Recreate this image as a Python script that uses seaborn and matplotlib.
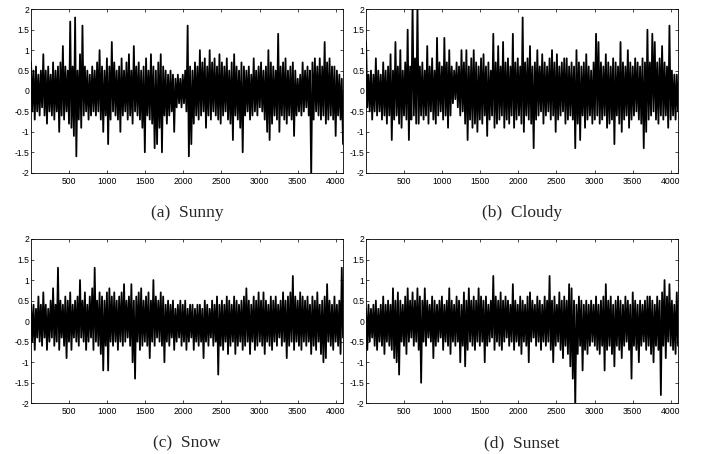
"""Four-panel noise signal figure (Sunny / Cloudy / Snow / Sunset)."""

import matplotlib

matplotlib.use("Agg")
import matplotlib.pyplot as plt
import numpy as np
import pandas as pd
import seaborn as sns

N_SAMPLES = 4096
X_TICKS = [500, 1000, 1500, 2000, 2500, 3000, 3500, 4000]
Y_TICKS = [-2, -1.5, -1, -0.5, 0, 0.5, 1, 1.5, 2]
Y_TICK_LABELS = ["-2", "-1.5", "-1", "-0.5", "0", "0.5", "1", "1.5", "2"]

CAPTIONS = ["(a)  Sunny", "(b)  Cloudy", "(c)  Snow", "(d)  Sunset"]

# Per-bin (32 samples) upper / lower excursions, in tenths.
sunny_hi = [7, 5, 6, 4, 5, 9, 5, 6, 4, 7, 5, 6, 7, 11, 6, 5, 17, 6, 18, 5, 9, 16, 6, 5, 4, 6, 5, 7, 10, 6, 5, 8,
            6, 12, 7, 5, 6, 8, 5, 7, 9, 5, 11, 6, 7, 5, 6, 8, 5, 9, 6, 5, 7, 9, 6, 5, 4, 5, 4, 3, 4, 3, 4, 5,
            16, 6, 5, 7, 6, 10, 7, 8, 6, 10, 7, 8, 6, 9, 7, 6, 8, 5, 7, 9, 6, 5, 7, 6, 5, 6, 4, 8, 5, 6, 7, 5,
            6, 10, 7, 6, 5, 14, 6, 7, 8, 5, 6, 7, 5, 3, 4, 7, 5, 6, 5, 7, 8, 6, 8, 6, 12, 7, 8, 6, 6, 5, 4, 3]
sunny_lo = [-5, -7, -5, -6, -4, -6, -8, -5, -6, -7, -5, -10, -6, -7, -5, -8, -9, -11, -16, -7, -9, -6, -5, -7,
            -6, -5, -6, -5, -7, -10, -6, -13, -7, -5, -6, -7, -10, -6, -5, -7, -6, -8, -5, -6, -7, -9, -15, -6,
            -7, -8, -14, -13, -9, -15, -6, -8, -6, -5, -10, -4, -3, -4, -3, -5, -16, -13, -8, -6, -7, -6, -5, -9,
            -6, -7, -5, -6, -7, -8, -6, -5, -7, -8, -12, -6, -7, -9, -15, -6, -5, -7, -6, -5, -6, -4, -5, -7,
            -10, -12, -8, -6, -7, -10, -6, -7, -8, -6, -7, -11, -6, -5, -6, -5, -4, -6, -21, -7, -5, -6, -7, -6,
            -8, -7, -6, -7, -11, -6, -7, -13]

cloudy_hi = [12, 4, 5, 4, 8, 5, 4, 7, 5, 6, 9, 5, 12, 6, 10, 5, 7, 15, 6, 21, 8, 21, 6, 7, 5, 11, 6, 8, 5, 13, 7, 6,
             13, 7, 10, 6, 5, 7, 6, 10, 7, 10, 6, 8, 10, 7, 6, 8, 9, 6, 7, 5, 14, 7, 11, 6, 12, 7, 8, 6, 14, 7, 8, 6,
             18, 7, 8, 11, 6, 7, 10, 6, 9, 7, 6, 8, 10, 7, 9, 6, 7, 8, 8, 6, 7, 6, 10, 7, 6, 7, 9, 6, 5, 7, 14, 12,
             7, 6, 9, 7, 6, 8, 7, 6, 12, 7, 6, 10, 7, 6, 8, 7, 6, 8, 7, 15, 7, 14, 12, 7, 8, 11, 7, 6, 16, 5, 4, 4]
cloudy_lo = [-4, -5, -7, -5, -6, -5, -7, -6, -8, -6, -12, -7, -6, -8, -9, -6, -7, -12, -7, -6, -8, -8, -6, -7,
             -6, -8, -5, -7, -8, -6, -5, -7, -6, -9, -6, -3, -2, -4, -6, -5, -8, -12, -7, -9, -8, -10, -7, -8,
             -6, -11, -7, -6, -9, -8, -7, -6, -9, -7, -8, -6, -9, -7, -6, -8, -10, -6, -7, -8, -14, -7, -6, -5,
             -8, -6, -5, -7, -6, -10, -7, -6, -5, -8, -7, -6, -7, -14, -8, -12, -6, -9, -7, -6, -8, -7, -6, -8,
             -7, -6, -9, -8, -7, -13, -6, -8, -10, -7, -6, -9, -7, -6, -5, -7, -8, -14, -10, -7, -6, -5, -7, -8,
             -6, -7, -6, -9, -7, -6, -7, -5]

snow_hi = [4, 4, 3, 6, 4, 7, 4, 3, 5, 8, 4, 13, 5, 4, 6, 5, 7, 4, 5, 6, 10, 5, 7, 4, 6, 8, 13, 5, 7, 6, 5, 7,
           8, 6, 7, 5, 6, 7, 9, 5, 6, 9, 5, 6, 7, 8, 5, 6, 7, 5, 10, 6, 5, 7, 6, 4, 5, 4, 5, 3, 4, 5, 4, 5,
           3, 4, 4, 3, 4, 4, 3, 5, 4, 3, 5, 4, 6, 4, 5, 4, 6, 5, 4, 6, 5, 4, 5, 6, 8, 5, 4, 6, 5, 7, 5, 7,
           5, 4, 6, 5, 6, 4, 5, 7, 5, 6, 7, 11, 6, 5, 7, 6, 5, 6, 4, 6, 5, 7, 4, 5, 6, 9, 5, 4, 6, 4, 5, 13]
snow_lo = [-5, -7, -4, -5, -6, -4, -7, -5, -4, -6, -5, -7, -4, -6, -9, -5, -7, -4, -5, -6, -4, -5, -7, -5,
           -4, -7, -5, -6, -8, -12, -6, -12, -5, -6, -5, -7, -5, -6, -5, -4, -6, -10, -14, -5, -7, -6, -5, -6,
           -9, -5, -6, -4, -5, -6, -10, -5, -6, -4, -7, -5, -4, -6, -5, -7, -5, -4, -7, -5, -6, -5, -9, -5,
           -6, -4, -6, -5, -13, -6, -7, -5, -8, -6, -5, -8, -6, -5, -7, -6, -5, -8, -5, -7, -6, -5, -6, -8,
           -5, -6, -7, -5, -6, -4, -6, -5, -9, -6, -5, -7, -5, -6, -7, -5, -6, -5, -8, -6, -7, -5, -8, -10,
           -9, -5, -6, -7, -5, -6, -8, -4]

sunset_hi = [3, 4, 3, 4, 5, 3, 4, 6, 4, 5, 4, 8, 5, 7, 5, 4, 6, 8, 5, 7, 5, 8, 6, 5, 8, 5, 4, 6, 5, 4, 5, 6,
             4, 5, 8, 5, 4, 6, 5, 4, 7, 5, 8, 5, 6, 5, 8, 6, 5, 6, 4, 5, 11, 6, 5, 7, 5, 6, 5, 4, 9, 5, 4, 6,
             5, 4, 6, 7, 5, 4, 6, 5, 4, 6, 5, 11, 5, 6, 4, 7, 5, 6, 5, 9, 8, 5, 4, 6, 5, 4, 5, 4, 5, 4, 6, 4,
             5, 6, 9, 5, 6, 4, 5, 6, 5, 4, 6, 5, 4, 7, 5, 4, 5, 4, 5, 6, 6, 5, 4, 6, 5, 7, 10, 6, 9, 5, 4, 7]
sunset_lo = [-7, -5, -4, -6, -7, -5, -6, -8, -5, -6, -7, -9, -10, -13, -5, -6, -8, -5, -4, -6, -5, -7, -15, -5,
             -6, -4, -5, -9, -6, -5, -4, -7, -5, -6, -8, -5, -6, -5, -10, -6, -11, -7, -5, -6, -7, -5, -6, -5,
             -10, -6, -5, -4, -7, -5, -6, -7, -5, -4, -6, -5, -7, -5, -6, -8, -5, -6, -10, -5, -4, -6, -5, -7,
             -5, -6, -5, -7, -10, -6, -5, -7, -9, -6, -8, -11, -14, -21, -8, -6, -12, -7, -8, -6, -5, -6, -7, -8,
             -6, -12, -7, -6, -8, -11, -6, -7, -9, -6, -5, -7, -14, -6, -7, -10, -6, -5, -7, -6, -8, -10, -6, -7,
             -18, -6, -9, -5, -6, -7, -8, -6]

PANELS = [
    (sunny_hi, sunny_lo),
    (cloudy_hi, cloudy_lo),
    (snow_hi, snow_lo),
    (sunset_hi, sunset_lo),
]


def _panel_frame(hi: list[int], lo: list[int]) -> pd.DataFrame:
    """Interleave upper and lower excursions into one sample sequence."""
    values = np.empty(2 * len(hi))
    values[0::2] = np.asarray(hi) / 10.0
    values[1::2] = np.asarray(lo) / 10.0
    sample = np.linspace(1, N_SAMPLES, values.size)
    return pd.DataFrame({"sample": sample, "value": values})


sns.set_theme(style="white")
plt.rcParams["font.family"] = ["Liberation Sans", "DejaVu Sans"]
plt.rcParams["axes.unicode_minus"] = False

fig = plt.figure(figsize=(7.02, 4.54), dpi=100)

W, H = 702.0, 454.0
# (left, top, right, bottom) in pixels
boxes = [
    (31, 9.3, 343, 172.7),
    (366, 9.3, 678, 172.7),
    (31, 239, 343, 403.3),
    (366, 239, 678, 403.3),
]

for (hi, lo), caption, (l, t, r, b) in zip(PANELS, CAPTIONS, boxes):
    ax = fig.add_axes([l / W, 1 - b / H, (r - l) / W, (b - t) / H])
    df = _panel_frame(hi, lo)
    sns.lineplot(data=df, x="sample", y="value", ax=ax, color="black",
                 linewidth=1.3, estimator=None)

    ax.set_xlim(0, N_SAMPLES)
    ax.set_ylim(-2, 2)
    ax.set_xticks(X_TICKS)
    ax.set_xticklabels([str(v) for v in X_TICKS])
    ax.set_yticks(Y_TICKS)
    ax.set_yticklabels(Y_TICK_LABELS)
    ax.set_xlabel("")
    ax.set_ylabel("")
    ax.tick_params(direction="in", length=2.5, width=0.5, labelsize=6.2,
                   top=True, right=True, bottom=True, left=True, colors="black")
    ax.tick_params(axis="x", pad=3.0)
    ax.tick_params(axis="y", pad=1.0)
    for spine in ax.spines.values():
        spine.set_linewidth(0.6)
        spine.set_color("black")

    ax.text(0.5, -0.245, caption, transform=ax.transAxes, ha="center", va="center",
            fontsize=12.5, family=["Liberation Serif", "DejaVu Serif"])

fig.savefig("out.png", dpi=100)
plt.close(fig)
